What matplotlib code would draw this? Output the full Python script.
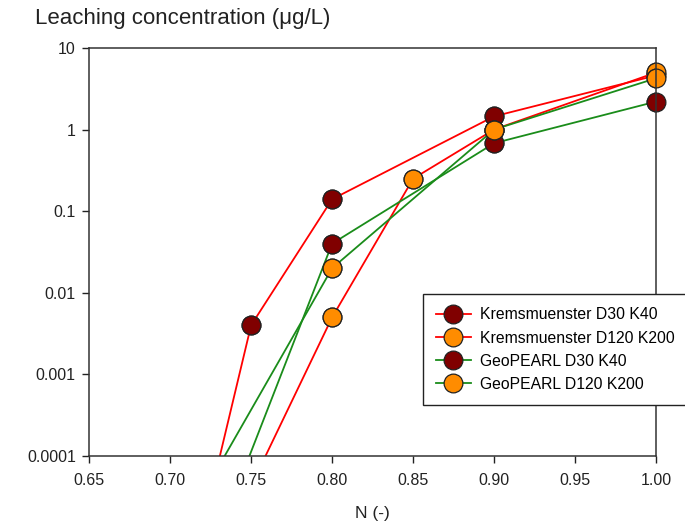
"""
Leaching concentration versus Freundlich exponent N
for two soil parameterisations, Kremsmuenster and GeoPEARL.
"""

import matplotlib
matplotlib.use("Agg")
import matplotlib.pyplot as plt
from matplotlib.ticker import FixedLocator, FixedFormatter, NullLocator

plt.rcParams["font.family"] = ["Liberation Sans", "DejaVu Sans"]

# N values and leaching concentrations (ug/L)
n_krems_d30 = [0.70, 0.75, 0.80, 0.90, 1.00]
c_krems_d30 = [2.8e-7, 0.004, 0.14, 1.45, 4.6]

n_krems_d120 = [0.75, 0.80, 0.85, 0.90, 1.00]
c_krems_d120 = [4.3e-5, 0.005, 0.25, 1.0, 5.0]

n_geo_d30 = [0.70, 0.80, 0.90, 1.00]
c_geo_d30 = [3.2e-7, 0.04, 0.68, 2.2]

n_geo_d120 = [0.70, 0.80, 0.90, 1.00]
c_geo_d120 = [6.8e-6, 0.02, 1.0, 4.25]

series = [
    ("Kremsmuenster D30 K40", n_krems_d30, c_krems_d30, "#ff0000", "#800000"),
    ("Kremsmuenster D120 K200", n_krems_d120, c_krems_d120, "#ff0000", "#ff8c00"),
    ("GeoPEARL D30 K40", n_geo_d30, c_geo_d30, "#1a8c1a", "#800000"),
    ("GeoPEARL D120 K200", n_geo_d120, c_geo_d120, "#1a8c1a", "#ff8c00"),
]

x_ticks = [0.65, 0.70, 0.75, 0.80, 0.85, 0.90, 0.95, 1.00]
y_ticks = [0.0001, 0.001, 0.01, 0.1, 1, 10]
y_labels = ["0.0001", "0.001", "0.01", "0.1", "1", "10"]
y_min, y_max = 0.0001, 10

fig = plt.figure(figsize=(6.85, 5.26), dpi=100)
ax = fig.add_axes([0.130, 0.133, 0.828, 0.776])

marker_style = dict(marker="o", ms=13.5, markeredgecolor="#222222",
                    markeredgewidth=0.9)

for label, n, c, line_col, face_col in series:
    ax.plot(n, c, color=line_col, lw=1.3, markerfacecolor=face_col,
            label=label, **marker_style)
    # markers inside the plotted range are drawn over the frame, unclipped
    vis = [(x, y) for x, y in zip(n, c) if y_min <= y <= y_max]
    ax.plot([p[0] for p in vis], [p[1] for p in vis], ls="none",
            markerfacecolor=face_col, clip_on=False, **marker_style)

ax.set_yscale("log")
ax.set_xlim(0.65, 1.00)
ax.set_ylim(y_min, y_max)

ax.xaxis.set_major_locator(FixedLocator(x_ticks))
ax.xaxis.set_major_formatter(FixedFormatter([f"{v:.2f}" for v in x_ticks]))
ax.yaxis.set_major_locator(FixedLocator(y_ticks))
ax.yaxis.set_major_formatter(FixedFormatter(y_labels))
ax.yaxis.set_minor_locator(NullLocator())

ax.tick_params(direction="out", length=5, width=1, labelsize=11.5,
               color="#222222", labelcolor="#222222")
ax.tick_params(axis="x", pad=7.5)
ax.tick_params(axis="y", pad=4.5)
for sp in ax.spines.values():
    sp.set_color("#333333")
    sp.set_linewidth(1.1)

ax.set_xlabel("N (-)", fontsize=12.5, color="#222222", labelpad=13)
fig.text(0.051, 0.964, "Leaching concentration (\u03bcg/L)", fontsize=16,
         color="#222222", va="center", ha="left")

leg = ax.legend(loc="upper left", bbox_to_anchor=(0.617, 0.441),
                bbox_transform=fig.transFigure, fontsize=11.3,
                frameon=True, fancybox=False, framealpha=1,
                edgecolor="#222222", handlelength=2.2, borderpad=0.85,
                labelspacing=0.52, handletextpad=0.6, borderaxespad=0)
leg.get_frame().set_linewidth(1.0)
leg.set_clip_on(False)

fig.savefig("out.png", dpi=100)
